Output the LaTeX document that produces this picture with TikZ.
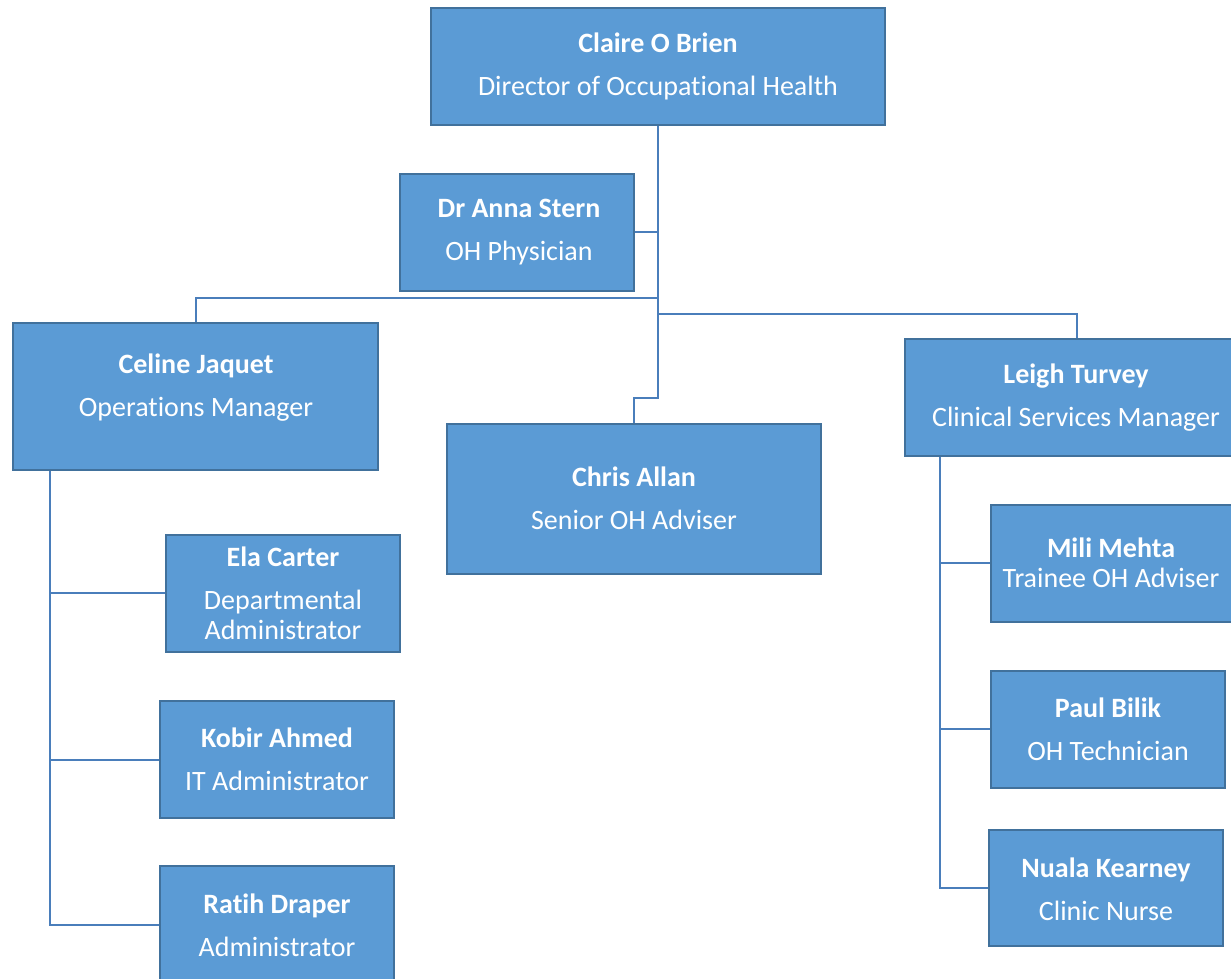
\documentclass[tikz,border=0pt]{standalone}
\usepackage{fontspec}
\setmainfont{Carlito}[Ligatures=NoCommon]
\begin{document}
\begin{tikzpicture}[x=1pt,y=-1pt,
  box/.style={fill=boxfill,draw=boxedge,line width=1.4pt},
  txt/.style={text=white,align=center,inner sep=0pt,font=\fontsize{28}{43}\selectfont},
  link/.style={draw=linkc,line width=2.8pt}]
\definecolor{boxfill}{HTML}{5B9BD5}
\definecolor{boxedge}{HTML}{41719C}
\definecolor{linkc}{HTML}{4A7EBB}
\useasboundingbox (0,0) rectangle (1231,979);
\fill[white] (0,0) rectangle (1231,979);
% connectors
\coordinate (j1) at (658,398);
\coordinate (j2) at (634,398);
\coordinate (ja) at (658,232);
\coordinate (jc) at (658,298);
\coordinate (jc2) at (196,298);
\coordinate (jl) at (658,314);
\coordinate (jl2) at (1077,314);
\coordinate (sl0) at (50,470);
\coordinate (sl1) at (50,593);
\coordinate (sl2) at (50,760);
\coordinate (sl3) at (50,925);
\coordinate (sr0) at (940,456);
\coordinate (sr1) at (940,563);
\coordinate (sr2) at (940,729);
\coordinate (sr3) at (940,888);
\draw[link] (658,125) -- (j1) -- (j2) -- (634,424);
\draw[link] (634,232) -- (ja);
\draw[link] (jc) -- (jc2) -- (196,323);
\draw[link] (jl) -- (jl2) -- (1077,339);
\draw[link] (sl0) -- (sl3) -- (160,925);
\draw[link] (sl1) -- (166,593);
\draw[link] (sl2) -- (160,760);
\draw[link] (sr0) -- (sr3) -- (989,888);
\draw[link] (sr1) -- (991,563);
\draw[link] (sr2) -- (991,729);
% boxes
\draw[box] (431,8) rectangle (885,125) node[midway,inner sep=0pt] (claire) {};
\draw[box] (400,174) rectangle (634,291) node[midway,inner sep=0pt] (anna) {};
\draw[box] (13,323) rectangle (378,470) node[midway,inner sep=0pt] (celine) {};
\draw[box] (447,424) rectangle (821,574) node[midway,inner sep=0pt] (chris) {};
\draw[box] (905,339) rectangle (1234,456) node[midway,inner sep=0pt] (leigh) {};
\draw[box] (166,535) rectangle (400,652) node[midway,inner sep=0pt] (ela) {};
\draw[box] (160,701) rectangle (394,818) node[midway,inner sep=0pt] (kobir) {};
\draw[box] (160,866) rectangle (394,990) node[midway,inner sep=0pt] (ratih) {};
\draw[box] (991,505) rectangle (1234,622) node[midway,inner sep=0pt] (mili) {};
\draw[box] (991,671) rectangle (1225,788) node[midway,inner sep=0pt] (paul) {};
\draw[box] (989,830) rectangle (1223,946) node[midway,inner sep=0pt] (nuala) {};
% texts
\node[txt] (tclaire) at (658,66) {\textbf{Claire O Brien}\\Director of Occupational Health};
\node[txt] (tanna) at (519,232) {\textbf{Dr Anna Stern}\\OH Physician};
\node[txt] (tceline) at (196,388) {\textbf{Celine Jaquet}\\Operations Manager};
\node[txt] (tchris) at (634,498) {\textbf{Chris Allan}\\Senior OH Adviser};
\node[txt] (tleigh) at (1076,398) {\textbf{Leigh Turvey}\\Clinical Services Manager};
\node[txt] (tela) at (283,593) {\textbf{Ela Carter}\\Departmental\\[-13pt]Administrator};
\node[txt] (tkobir) at (277,759) {\textbf{Kobir Ahmed}\\IT Administrator};
\node[txt] (tratih) at (277,925) {\textbf{Ratih Draper}\\Administrator};
\node[txt] (tmili) at (1111,563) {\textbf{Mili Mehta}\\[-13pt]Trainee OH Adviser};
\node[txt] (tpaul) at (1108,729) {\textbf{Paul Bilik}\\OH Technician};
\node[txt] (tnuala) at (1106,889) {\textbf{Nuala Kearney}\\Clinic Nurse};
\end{tikzpicture}
\end{document}
